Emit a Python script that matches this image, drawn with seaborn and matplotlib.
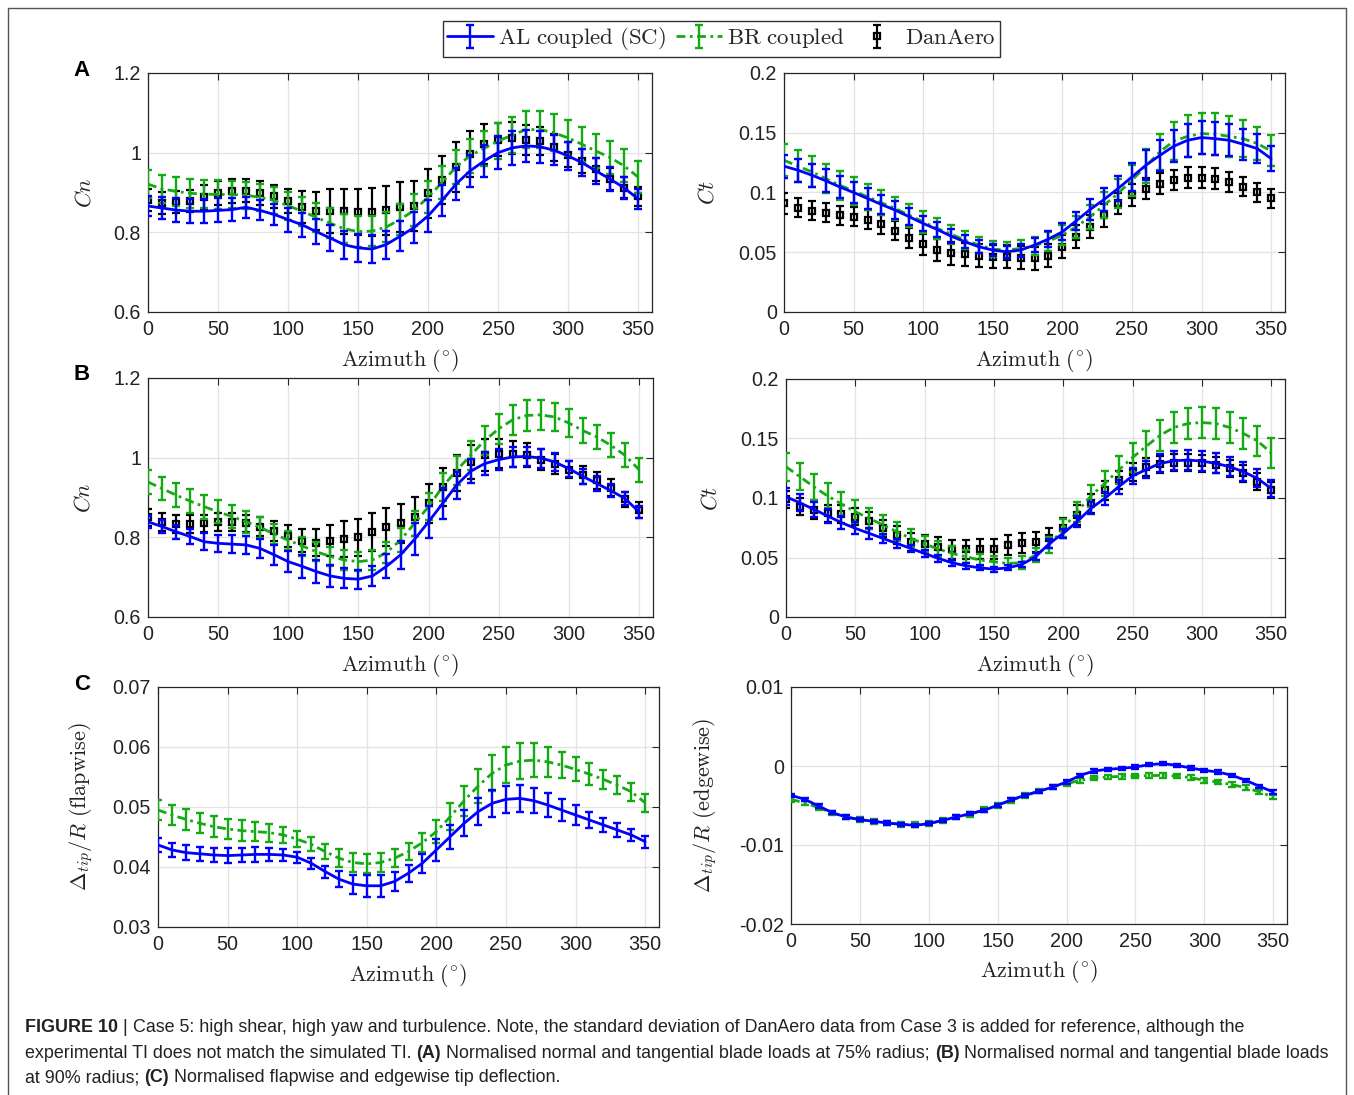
import numpy as np
import pandas as pd
import matplotlib
matplotlib.use("Agg")
import matplotlib.pyplot as plt
import seaborn as sns
from matplotlib.lines import Line2D
from matplotlib.legend_handler import HandlerTuple
from matplotlib.ticker import FuncFormatter, MultipleLocator
from matplotlib import font_manager

# ---------------- data ----------------
azimuth = list(range(0, 360, 10))

# Panel A (75% radius) - Cn
cn75_al = [0.866, 0.861, 0.856, 0.853, 0.853, 0.855, 0.857, 0.863, 0.855, 0.845, 0.832, 0.819,
           0.802, 0.786, 0.769, 0.761, 0.758, 0.769, 0.790, 0.812, 0.841, 0.880, 0.921, 0.954,
           0.979, 1.000, 1.012, 1.017, 1.015, 1.006, 0.992, 0.975, 0.954, 0.934, 0.912, 0.884]
cn75_al_err = [0.025, 0.027, 0.029, 0.030, 0.030, 0.030, 0.028, 0.026, 0.025, 0.027, 0.030, 0.030,
               0.032, 0.033, 0.035, 0.036, 0.036, 0.035, 0.038, 0.040, 0.040, 0.040, 0.040, 0.040,
               0.040, 0.041, 0.042, 0.041, 0.040, 0.038, 0.036, 0.034, 0.032, 0.030, 0.028, 0.025]
cn75_br = [0.921, 0.909, 0.903, 0.898, 0.896, 0.895, 0.895, 0.893, 0.888, 0.880, 0.867, 0.853,
           0.838, 0.823, 0.809, 0.802, 0.803, 0.813, 0.832, 0.855, 0.888, 0.925, 0.964, 0.992,
           1.011, 1.029, 1.044, 1.058, 1.058, 1.050, 1.037, 1.021, 1.004, 0.988, 0.967, 0.939]
cn75_br_err = [0.035, 0.035, 0.036, 0.036, 0.036, 0.036, 0.035, 0.034, 0.034, 0.034, 0.035, 0.036,
               0.036, 0.037, 0.037, 0.038, 0.038, 0.038, 0.039, 0.040, 0.040, 0.041, 0.042, 0.043,
               0.044, 0.045, 0.046, 0.047, 0.047, 0.046, 0.045, 0.044, 0.043, 0.042, 0.041, 0.040]
cn75_exp = [0.881, 0.873, 0.876, 0.878, 0.888, 0.898, 0.903, 0.905, 0.898, 0.890, 0.878, 0.863,
            0.853, 0.853, 0.853, 0.851, 0.851, 0.855, 0.863, 0.866, 0.898, 0.931, 0.964, 0.996,
            1.021, 1.033, 1.037, 1.032, 1.029, 1.013, 0.995, 0.978, 0.958, 0.934, 0.912, 0.890]
cn75_exp_err = [0.027, 0.027, 0.027, 0.028, 0.030, 0.030, 0.030, 0.030, 0.030, 0.030, 0.030, 0.040,
                0.048, 0.055, 0.057, 0.058, 0.060, 0.062, 0.063, 0.063, 0.062, 0.060, 0.062, 0.058,
                0.050, 0.042, 0.040, 0.038, 0.035, 0.033, 0.031, 0.030, 0.029, 0.028, 0.026, 0.025]

# Panel A (75% radius) - Ct
ct75_al = [0.122, 0.1187, 0.1145, 0.1098, 0.1047, 0.100, 0.095, 0.090, 0.0852, 0.0797, 0.0741, 0.0691,
           0.0635, 0.0588, 0.0546, 0.0518, 0.0504, 0.0518, 0.056, 0.061, 0.0671, 0.0763, 0.0858, 0.0942,
           0.1033, 0.113, 0.1228, 0.131, 0.1387, 0.1437, 0.146, 0.145, 0.1437, 0.1404, 0.1368, 0.1284]
ct75_al_err = [0.0095, 0.0095, 0.0095, 0.0095, 0.0095, 0.009, 0.0085, 0.008, 0.0075, 0.007, 0.0065, 0.006,
               0.0058, 0.0055, 0.0053, 0.005, 0.005, 0.0055, 0.006, 0.0065, 0.007, 0.0075, 0.0085, 0.0095,
               0.0105, 0.0115, 0.0125, 0.013, 0.0135, 0.014, 0.014, 0.014, 0.0135, 0.013, 0.0125, 0.0105]
ct75_br = [0.127, 0.122, 0.1173, 0.1117, 0.1061, 0.1014, 0.0964, 0.0914, 0.0866, 0.081, 0.0755, 0.070,
           0.0652, 0.0602, 0.056, 0.0526, 0.0518, 0.0532, 0.0554, 0.0593, 0.0643, 0.0713, 0.0797, 0.0894,
           0.0992, 0.1103, 0.122, 0.134, 0.1429, 0.147, 0.1493, 0.1487, 0.147, 0.145, 0.141, 0.1348]
ct75_br_err = [0.0135, 0.0132, 0.013, 0.0125, 0.012, 0.0115, 0.011, 0.0105, 0.010, 0.0095, 0.009, 0.0085,
               0.008, 0.0075, 0.007, 0.0065, 0.0065, 0.007, 0.0075, 0.008, 0.0085, 0.009, 0.010, 0.011,
               0.012, 0.013, 0.014, 0.015, 0.016, 0.0175, 0.0175, 0.0175, 0.017, 0.0155, 0.014, 0.013]
ct75_exp = [0.0908, 0.0872, 0.0847, 0.083, 0.081, 0.0797, 0.0774, 0.0733, 0.068, 0.0621, 0.0565, 0.0518,
            0.049, 0.0482, 0.0471, 0.0462, 0.0462, 0.0454, 0.0448, 0.0471, 0.0546, 0.063, 0.0713, 0.081,
            0.0908, 0.0978, 0.1033, 0.1075, 0.1103, 0.1125, 0.1125, 0.1117, 0.1089, 0.1047, 0.100, 0.095]
ct75_exp_err = [0.0085, 0.008, 0.008, 0.008, 0.008, 0.008, 0.008, 0.008, 0.008, 0.0085, 0.0085, 0.009,
                0.0095, 0.0095, 0.0095, 0.0097, 0.0097, 0.0097, 0.0097, 0.0097, 0.0095, 0.0095, 0.0095, 0.0095,
                0.009, 0.009, 0.009, 0.0085, 0.0085, 0.0085, 0.0085, 0.0085, 0.0085, 0.008, 0.008, 0.008]

# Panel B (90% radius) - Cn
cn90_al = [0.839, 0.827, 0.814, 0.802, 0.789, 0.785, 0.783, 0.781, 0.772, 0.756, 0.739, 0.727,
           0.714, 0.703, 0.697, 0.695, 0.703, 0.727, 0.756, 0.795, 0.839, 0.885, 0.931, 0.966,
           0.985, 0.995, 1.002, 1.003, 0.999, 0.989, 0.9725, 0.953, 0.935, 0.917, 0.8975, 0.864]
cn90_al_err = [0.015, 0.016, 0.017, 0.019, 0.021, 0.022, 0.022, 0.022, 0.024, 0.026, 0.027, 0.028,
               0.028, 0.027, 0.025, 0.024, 0.025, 0.030, 0.036, 0.040, 0.040, 0.038, 0.034, 0.030,
               0.028, 0.026, 0.026, 0.025, 0.024, 0.022, 0.020, 0.019, 0.018, 0.017, 0.016, 0.015]
cn90_br = [0.939, 0.9225, 0.906, 0.891, 0.877, 0.864, 0.852, 0.839, 0.825, 0.808, 0.793, 0.778,
           0.764, 0.752, 0.743, 0.739, 0.743, 0.762, 0.793, 0.835, 0.877, 0.927, 0.968, 1.006,
           1.043, 1.0725, 1.095, 1.106, 1.1075, 1.102, 1.087, 1.068, 1.052, 1.031, 1.006, 0.970]
cn90_br_err = [0.030, 0.030, 0.030, 0.030, 0.030, 0.029, 0.028, 0.027, 0.026, 0.025, 0.024, 0.024,
               0.024, 0.024, 0.024, 0.024, 0.025, 0.027, 0.030, 0.032, 0.034, 0.035, 0.036, 0.036,
               0.037, 0.037, 0.038, 0.038, 0.038, 0.036, 0.034, 0.032, 0.030, 0.030, 0.030, 0.030]
cn90_exp = [0.850, 0.839, 0.833, 0.833, 0.835, 0.839, 0.839, 0.835, 0.827, 0.816, 0.803, 0.792,
            0.787, 0.792, 0.795, 0.800, 0.814, 0.825, 0.835, 0.852, 0.885, 0.927, 0.962, 0.989,
            1.006, 1.010, 1.010, 1.006, 0.995, 0.983, 0.970, 0.956, 0.943, 0.925, 0.895, 0.868]
cn90_exp_err = [0.022, 0.022, 0.022, 0.022, 0.022, 0.022, 0.022, 0.022, 0.023, 0.025, 0.027, 0.030,
                0.035, 0.040, 0.045, 0.047, 0.048, 0.048, 0.048, 0.048, 0.050, 0.048, 0.045, 0.042,
                0.040, 0.037, 0.033, 0.030, 0.027, 0.025, 0.022, 0.022, 0.022, 0.021, 0.020, 0.020]

# Panel B (90% radius) - Ct
ct90_al = [0.101, 0.096, 0.0905, 0.0849, 0.0793, 0.0745, 0.0703, 0.066, 0.0618, 0.0576, 0.0534, 0.0492,
           0.0455, 0.043, 0.0413, 0.0402, 0.0413, 0.0441, 0.0506, 0.0618, 0.0703, 0.0801, 0.0913, 0.0997,
           0.1095, 0.1185, 0.124, 0.1291, 0.1313, 0.1319, 0.131, 0.1291, 0.1263, 0.1221, 0.1165, 0.1081]
ct90_al_err = [0.0072, 0.007, 0.0065, 0.006, 0.0055, 0.005, 0.0045, 0.004, 0.0036, 0.0032, 0.003, 0.0027,
               0.0025, 0.0023, 0.0022, 0.002, 0.0022, 0.0025, 0.003, 0.0035, 0.004, 0.0045, 0.005, 0.0055,
               0.006, 0.0065, 0.007, 0.0075, 0.008, 0.0082, 0.0084, 0.0084, 0.0082, 0.008, 0.0075, 0.0072]
ct90_br = [0.1263, 0.1179, 0.1095, 0.1017, 0.095, 0.0885, 0.0829, 0.0773, 0.0717, 0.0661, 0.0613, 0.0571,
           0.0534, 0.0506, 0.0478, 0.0464, 0.045, 0.0456, 0.052, 0.0604, 0.0745, 0.0885, 0.1017, 0.1123,
           0.1235, 0.134, 0.1436, 0.1528, 0.1593, 0.1626, 0.1634, 0.1626, 0.1593, 0.1542, 0.1481, 0.138]
ct90_br_err = [0.0118, 0.0115, 0.011, 0.0105, 0.010, 0.0095, 0.009, 0.0085, 0.008, 0.0075, 0.007, 0.0065,
               0.006, 0.0055, 0.005, 0.005, 0.005, 0.0055, 0.006, 0.0065, 0.0075, 0.0085, 0.0095, 0.0105,
               0.0115, 0.012, 0.0125, 0.013, 0.0132, 0.0134, 0.0134, 0.0134, 0.0132, 0.013, 0.0128, 0.0125]
ct90_exp = [0.0989, 0.0927, 0.0899, 0.0871, 0.0866, 0.0843, 0.081, 0.0745, 0.0689, 0.0633, 0.0613, 0.0591,
            0.0571, 0.0568, 0.0571, 0.0571, 0.0605, 0.0619, 0.0633, 0.0661, 0.0745, 0.0857, 0.0955, 0.1067,
            0.1151, 0.1221, 0.1258, 0.1283, 0.1297, 0.1297, 0.1291, 0.1277, 0.1249, 0.1207, 0.1137, 0.1067]
ct90_exp_err = [0.0072, 0.0072, 0.0072, 0.0072, 0.0072, 0.0072, 0.0072, 0.0072, 0.0072, 0.0075, 0.0075, 0.0078,
                0.008, 0.0082, 0.0084, 0.0084, 0.0084, 0.0084, 0.0084, 0.0084, 0.0084, 0.0084, 0.0082, 0.008,
                0.0078, 0.0076, 0.0074, 0.0072, 0.0072, 0.0072, 0.007, 0.007, 0.007, 0.007, 0.007, 0.007]

# Panel C - flapwise tip deflection
flap_al = [0.04368, 0.04285, 0.0424, 0.0422, 0.0420, 0.0419, 0.0420, 0.0421, 0.0421, 0.0420, 0.04163, 0.04064,
           0.03925, 0.03798, 0.03715, 0.03687, 0.03687, 0.03759, 0.03897, 0.04064, 0.04285, 0.04507, 0.04729, 0.04922,
           0.05061, 0.05127, 0.05144, 0.05105, 0.05033, 0.0495, 0.04867, 0.04784, 0.04701, 0.04618, 0.04535, 0.04424]
flap_al_err = [0.0012, 0.0012, 0.0012, 0.0012, 0.0012, 0.0012, 0.0012, 0.0012, 0.0011, 0.0010, 0.0009, 0.0009,
               0.0010, 0.0013, 0.0016, 0.0018, 0.0018, 0.0016, 0.0014, 0.0016, 0.0018, 0.0020, 0.0022, 0.0022,
               0.0022, 0.0022, 0.0022, 0.0021, 0.0020, 0.0018, 0.0016, 0.0014, 0.0012, 0.0011, 0.0010, 0.0010]
flap_br = [0.0495, 0.04867, 0.04795, 0.04729, 0.04673, 0.04634, 0.04607, 0.0459, 0.04573, 0.04535, 0.04463, 0.0438,
           0.04258, 0.04147, 0.04075, 0.04053, 0.04075, 0.04147, 0.04258, 0.04407, 0.0459, 0.04839, 0.05105, 0.05349,
           0.0556, 0.05698, 0.05765, 0.05781, 0.05753, 0.05698, 0.05626, 0.05548, 0.0546, 0.05366, 0.05255, 0.05072]
flap_br_err = [0.0017, 0.0017, 0.0017, 0.0017, 0.0017, 0.0017, 0.0017, 0.0016, 0.0015, 0.0014, 0.0013, 0.0012,
               0.0013, 0.0015, 0.0016, 0.0016, 0.0016, 0.0015, 0.0014, 0.0016, 0.0019, 0.0022, 0.0025, 0.0028,
               0.0030, 0.0030, 0.0030, 0.0028, 0.0025, 0.0022, 0.0020, 0.0018, 0.0016, 0.0015, 0.0015, 0.0015]

# Panel C - edgewise tip deflection
edge_al = [-0.00371, -0.00422, -0.00506, -0.00591, -0.00646, -0.00679, -0.0070, -0.00722, -0.00738, -0.00751,
           -0.0073, -0.00688, -0.00646, -0.00603, -0.00561, -0.00498, -0.00426, -0.00371, -0.00321, -0.00266,
           -0.00203, -0.00118, -0.00063, -0.00042, -0.0003, -0.00013, 0.00017, 0.0003, 0.00008, -0.00025,
           -0.00055, -0.00076, -0.00118, -0.00181, -0.00257, -0.00329]
edge_al_err = [0.0002, 0.0002, 0.0002, 0.0002, 0.0002, 0.0002, 0.0002, 0.0002, 0.0002, 0.0002, 0.0002, 0.0002,
               0.0002, 0.0002, 0.0002, 0.0002, 0.0002, 0.0002, 0.0002, 0.0002, 0.0002, 0.0002, 0.0002, 0.0002,
               0.0002, 0.0002, 0.0002, 0.0002, 0.0002, 0.0002, 0.0002, 0.0002, 0.0002, 0.0002, 0.0002, 0.0002]
edge_br = [-0.00422, -0.00468, -0.00527, -0.00595, -0.00646, -0.00679, -0.0070, -0.00722, -0.00738, -0.00743,
           -0.0073, -0.00688, -0.00646, -0.00612, -0.00553, -0.00498, -0.00435, -0.00371, -0.00316, -0.00266,
           -0.00224, -0.00181, -0.00152, -0.00139, -0.00131, -0.00127, -0.00122, -0.00118, -0.00127, -0.00148,
           -0.00181, -0.00203, -0.00236, -0.00274, -0.00329, -0.00392]
edge_br_err = [0.0003, 0.0003, 0.0003, 0.0003, 0.0003, 0.0003, 0.0003, 0.0003, 0.0003, 0.0003, 0.0003, 0.0003,
               0.0003, 0.0003, 0.0003, 0.0003, 0.0003, 0.0003, 0.0003, 0.0003, 0.0003, 0.0003, 0.0003, 0.0003,
               0.0003, 0.0003, 0.0003, 0.0003, 0.0003, 0.0003, 0.0003, 0.0003, 0.0003, 0.0003, 0.0003, 0.0003]

series_labels = [r"$\mathrm{AL\ coupled\ (SC)}$", r"$\mathrm{BR\ coupled}$", r"$\mathrm{DanAero}$"]
xticks = [0, 50, 100, 150, 200, 250, 300, 350]

# ---------------- style ----------------
sns.set_theme(style="white")
plt.rcParams["font.family"] = ["Liberation Sans", "DejaVu Sans"]
plt.rcParams["mathtext.fontset"] = "cm"
plt.rcParams["axes.unicode_minus"] = False

BLUE = "#0000ff"
GREEN = "#14aa14"
BLACK = "#000000"
GREEN_LS = (0, (3.2, 1.6, 1.0, 1.6))

W, H = 1354, 1095
fig = plt.figure(figsize=(W / 100, H / 100), dpi=100)
fig.patch.set_facecolor("white")


def px_axes(left, top, right, bottom):
    return fig.add_axes([left / W, 1 - bottom / H, (right - left) / W, (bottom - top) / H])


fmt = FuncFormatter(lambda v, p: "%g" % round(v, 6))


def setup(ax, ylim, ystep, ylabel, ylab_x):
    ax.set_xlim(0, 360)
    ax.set_ylim(*ylim)
    ax.set_xticks(xticks)
    ax.yaxis.set_major_locator(MultipleLocator(ystep))
    ax.yaxis.set_major_formatter(fmt)
    ax.grid(True, color="#e3e3e3", lw=0.9)
    ax.set_axisbelow(True)
    ax.tick_params(direction="in", top=True, right=True, length=5, width=0.8,
                   color="#262626", labelsize=14.2, labelcolor="#222222")
    ax.tick_params(axis="x", pad=6)
    ax.tick_params(axis="y", pad=5)
    for s in ax.spines.values():
        s.set_color("#262626")
        s.set_linewidth(0.9)
    ax.set_xlabel(r"$\mathrm{Azimuth\ (^{\circ})}$", fontsize=16, color="#222222")
    ax.xaxis.set_label_coords(0.5, -0.145)
    ax.set_ylabel(ylabel, fontsize=16, color="#222222")
    ax.yaxis.set_label_coords(ylab_x, 0.5)


def draw(ax, al, al_err, br, br_err, exp=None, exp_err=None):
    handles = {}
    if exp is not None:
        handles["exp"] = ax.errorbar(azimuth, exp, yerr=exp_err, fmt="s", color=BLACK,
                                     mfc="none", mec=BLACK, ms=4.5, mew=1.6,
                                     elinewidth=1.6, capsize=3.2, capthick=1.6, zorder=3)
    df_br = pd.DataFrame({"azimuth": azimuth, "value": br})
    sns.lineplot(data=df_br, x="azimuth", y="value", ax=ax, color=GREEN, lw=2.0,
                 linestyle=GREEN_LS, zorder=4)
    handles["br"] = ax.errorbar(azimuth, br, yerr=br_err, fmt="none", ecolor=GREEN,
                                elinewidth=1.7, capsize=3.2, capthick=1.7, zorder=4)
    df_al = pd.DataFrame({"azimuth": azimuth, "value": al})
    sns.lineplot(data=df_al, x="azimuth", y="value", ax=ax, color=BLUE, lw=2.0, zorder=5)
    handles["al"] = ax.errorbar(azimuth, al, yerr=al_err, fmt="none", ecolor=BLUE,
                                elinewidth=1.7, capsize=3.2, capthick=1.7, zorder=5)
    return handles


# Panel A
axA1 = px_axes(148, 73, 652, 312)
hA = draw(axA1, cn75_al, cn75_al_err, cn75_br, cn75_br_err, cn75_exp, cn75_exp_err)
setup(axA1, (0.6, 1.2), 0.2, r"$Cn$", -0.105)
axA2 = px_axes(784, 73, 1285, 312)
draw(axA2, ct75_al, ct75_al_err, ct75_br, ct75_br_err, ct75_exp, ct75_exp_err)
setup(axA2, (0, 0.2), 0.05, r"$Ct$", -0.13)

# Panel B
axB1 = px_axes(148, 378, 653, 617)
draw(axB1, cn90_al, cn90_al_err, cn90_br, cn90_br_err, cn90_exp, cn90_exp_err)
setup(axB1, (0.6, 1.2), 0.2, r"$Cn$", -0.105)
axB2 = px_axes(786, 379, 1285, 617)
draw(axB2, ct90_al, ct90_al_err, ct90_br, ct90_br_err, ct90_exp, ct90_exp_err)
setup(axB2, (0, 0.2), 0.05, r"$Ct$", -0.13)

# Panel C
axC1 = px_axes(158, 687, 659, 927)
draw(axC1, flap_al, flap_al_err, flap_br, flap_br_err)
setup(axC1, (0.03, 0.07), 0.01, r"$\Delta_{tip}/R\ \mathrm{(flapwise)}$", -0.125)
axC2 = px_axes(791, 687, 1287, 924)
draw(axC2, edge_al, edge_al_err, edge_br, edge_br_err)
setup(axC2, (-0.02, 0.01), 0.01, r"$\Delta_{tip}/R\ \mathrm{(edgewise)}$", -0.145)

# panel letters
for letter, y in [("A", 70), ("B", 375), ("C", 684)]:
    fig.text(82 / W, 1 - y / H, letter, fontsize=16, fontweight="bold",
             ha="center", va="center", color="black")

# legend
h_al = (Line2D([0], [0], color=BLUE, lw=2.0), hA["al"])
h_br = (Line2D([0], [0], color=GREEN, lw=2.0, linestyle=GREEN_LS), hA["br"])
leg = fig.legend([h_al, h_br, hA["exp"]], series_labels, ncol=3, loc="center",
                 bbox_to_anchor=(721.5 / W, 1 - 39 / H), fontsize=16.5, frameon=True,
                 fancybox=False, edgecolor="black", handlelength=2.0, handletextpad=0.2,
                 columnspacing=0.45, borderpad=0.2, borderaxespad=0,
                 handler_map={tuple: HandlerTuple(ndivide=1, pad=0)})
leg.get_frame().set_linewidth(1.0)

# figure border
fig.add_artist(Line2D([8 / W, 8 / W, 1346 / W, 1346 / W], [0, 1 - 8 / H, 1 - 8 / H, 0],
                      color="#555555", lw=1.0, transform=fig.transFigure))

# caption
names = {f.name for f in font_manager.fontManager.ttflist}
cap_family = ["Liberation Sans Narrow"] if "Liberation Sans Narrow" in names else ["Liberation Sans"]
caption_lines = [
    [("FIGURE 10", "bold"), (" | ", "normal"),
     ("Case 5: high shear, high yaw and turbulence. Note, the standard deviation of DanAero data "
      "from Case 3 is added for reference, although the", "normal")],
    [("experimental TI does not match the simulated TI. ", "normal"), ("(A)", "bold"),
     (" Normalised normal and tangential blade loads at 75% radius; ", "normal"), ("(B)", "bold"),
     (" Normalised normal and tangential blade loads", "normal")],
    [("at 90% radius; ", "normal"), ("(C)", "bold"),
     (" Normalised flapwise and edgewise tip deflection.", "normal")],
]
renderer = fig.canvas.get_renderer()

# fit font size so that the second caption line spans its width in the reference
base = 10.0
probe_w = 0.0
for txt, wt in caption_lines[1]:
    t = fig.text(0, 0, txt, fontsize=base, fontweight=wt, family=cap_family)
    probe_w += t.get_window_extent(renderer).width
    t.remove()
cap_size = base * (1336 - 25) / probe_w

for line, ypx in zip(caption_lines, [1028, 1053, 1078]):
    xpx = 25
    for txt, wt in line:
        t = fig.text(xpx / W, 1 - ypx / H, txt, fontsize=cap_size, fontweight=wt,
                     family=cap_family, ha="left", va="center", color="#222222")
        bb = t.get_window_extent(renderer)
        xpx += bb.width

fig.savefig("out.png", dpi=100, facecolor="white")
